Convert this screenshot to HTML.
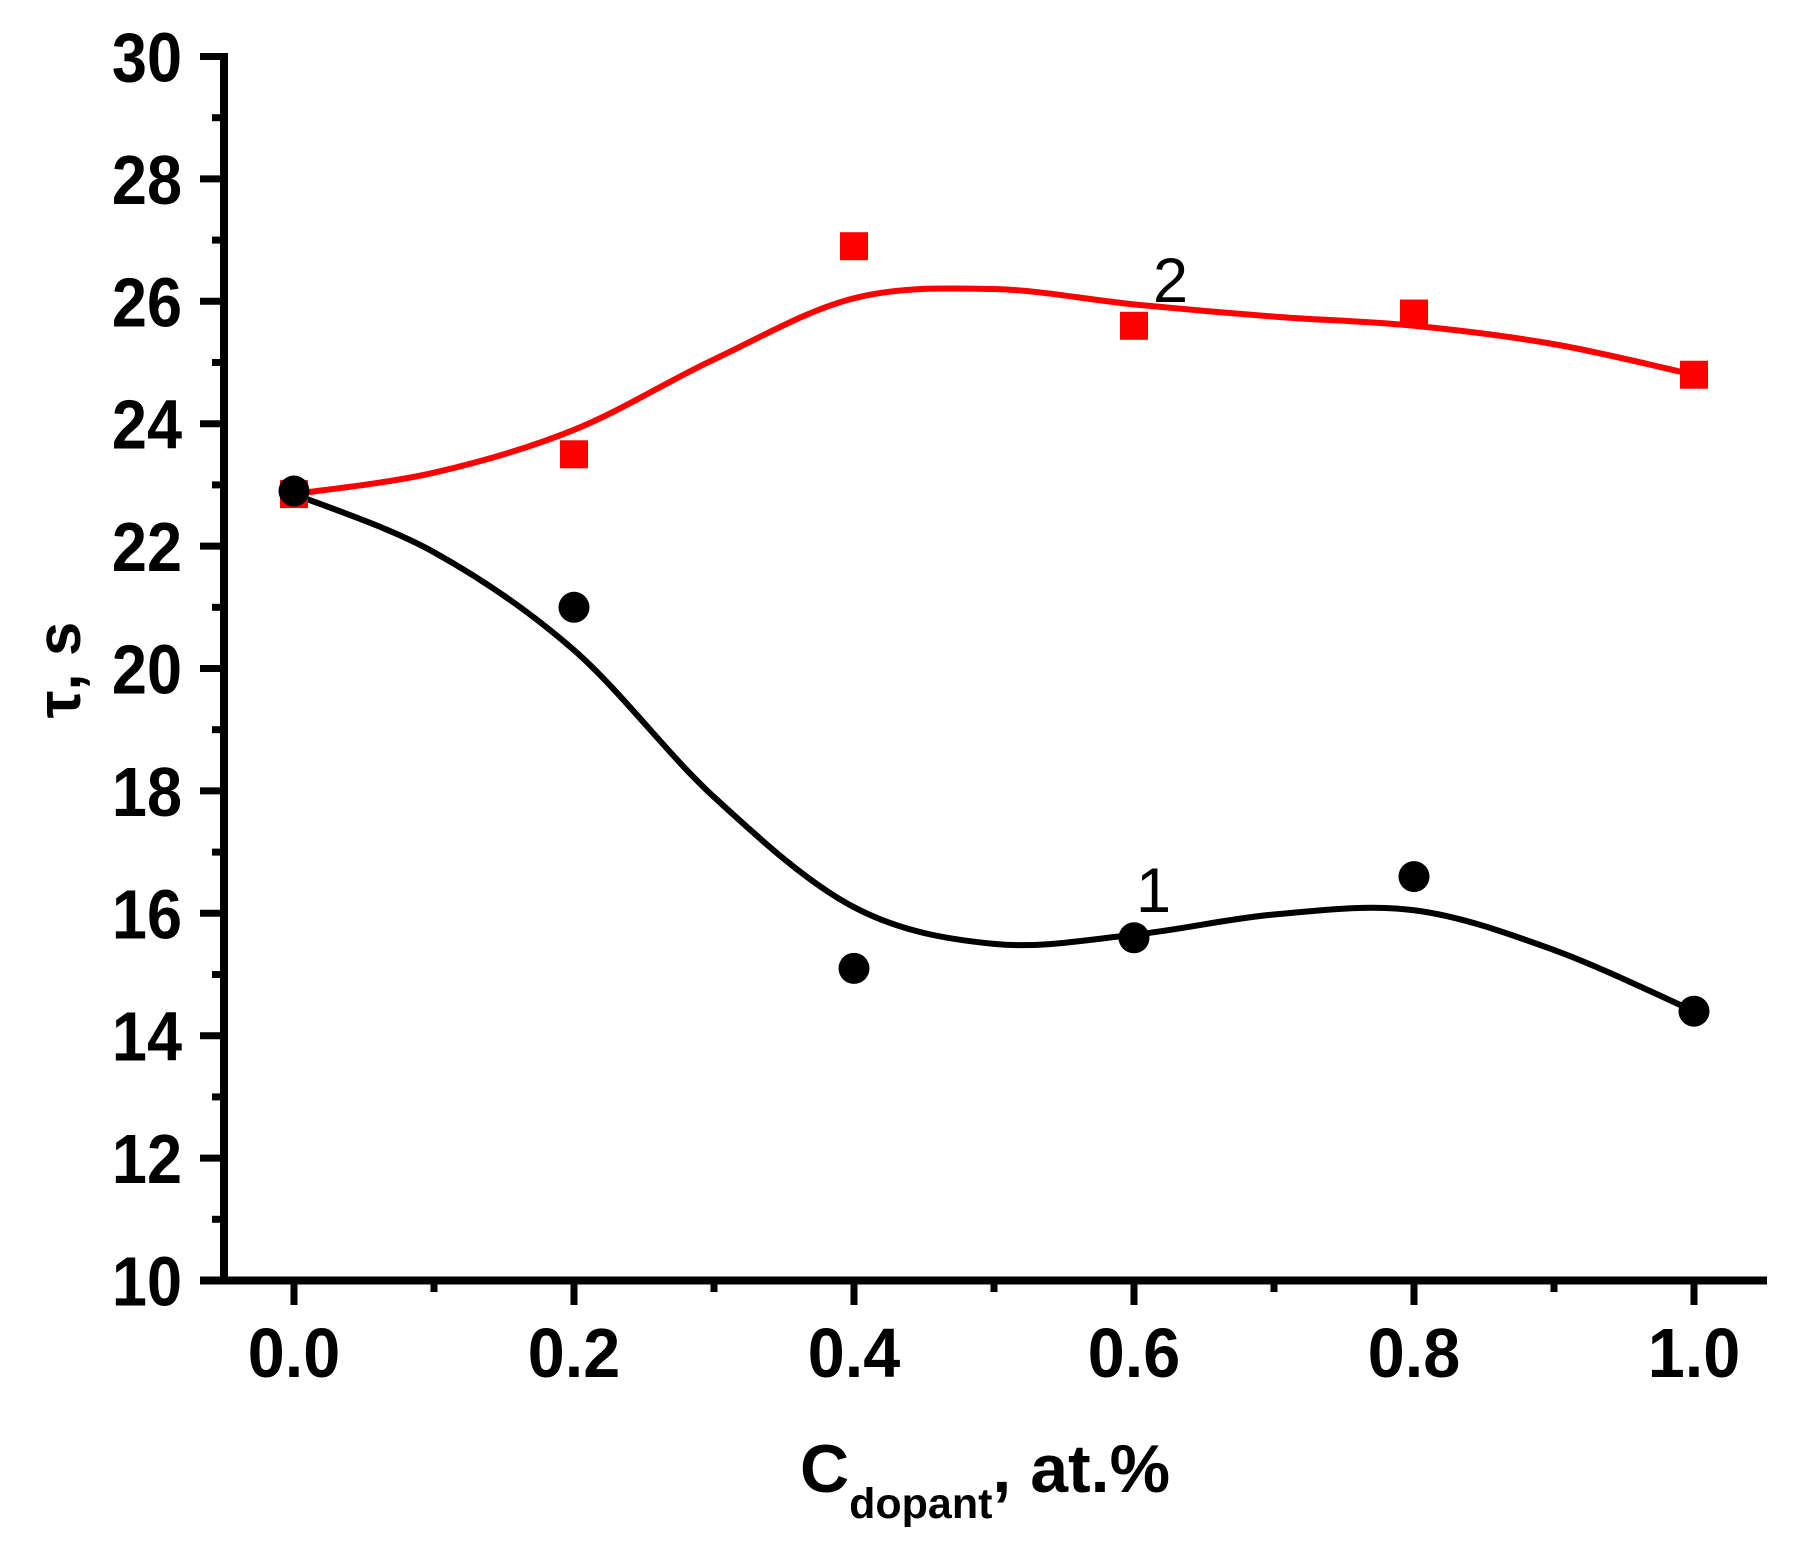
<!DOCTYPE html>
<html><head><meta charset="utf-8"><style>
html,body{margin:0;padding:0;background:#fff;}
svg{display:block;}
text{font-family:"Liberation Sans",Arial,sans-serif;}
</style></head><body>
<svg id="s" width="1803" height="1541" viewBox="0 0 1803 1541" xmlns="http://www.w3.org/2000/svg">
<rect width="1803" height="1541" fill="#fff"/>
<line x1="224" y1="53" x2="224" y2="1284" stroke="#000" stroke-width="8"/>
<line x1="200" y1="1280.5" x2="1767" y2="1280.5" stroke="#000" stroke-width="8"/>
<g id="ticks" stroke="#000" stroke-width="7"></g>
<g id="ylab" font-size="70" font-weight="bold" text-anchor="end"></g>
<g id="xlab" font-size="70" font-weight="bold" text-anchor="middle"></g>
<path id="red" fill="none" stroke="#ff0000" stroke-width="6" stroke-linejoin="round"/>
<path id="blk" fill="none" stroke="#000" stroke-width="6" stroke-linejoin="round"/>
<g id="mk"></g>
<text x="1153" y="302" font-size="63">2</text>
<text x="1136" y="912" font-size="63">1</text>
<text x="800" y="1492" font-size="68" font-weight="bold">C<tspan font-size="43" dy="26">dopant</tspan><tspan dy="-26">, at.%</tspan></text>
<text transform="translate(80,670) rotate(-90)" font-size="62" font-weight="bold" text-anchor="middle">τ, s</text>
</svg>
<script>
var NS="http://www.w3.org/2000/svg";
function X(t){return 294+1400*t;}
function Y(v){return 1280.5-61.2*(v-10);}
function el(p,n,a,txt){var e=document.createElementNS(NS,n);for(var k in a)e.setAttribute(k,a[k]);if(txt!==undefined)e.textContent=txt;document.getElementById(p).appendChild(e);return e;}
for(var v=10;v<=30;v++){var y=Y(v);var maj=(v%2==0);el("ticks","line",{x1:maj?200:212,x2:224,y1:y,y2:y});if(maj)el("ylab","text",{x:0,y:0,transform:"translate(182,"+(y+25)+") scale(0.9,1)"},String(v));}
for(var i=0;i<=10;i++){var t=i*0.1;var x=X(t);var maj=(i%2==0);el("ticks","line",{x1:x,x2:x,y1:1280,y2:maj?1305:1292});if(maj)el("xlab","text",{x:0,y:0,transform:"translate("+x+",1377) scale(0.95,1)"},t.toFixed(1));}
function cr(pts){var d="M"+pts[0][0]+","+pts[0][1];for(var i=0;i<pts.length-1;i++){var p0=pts[i-1]||pts[i],p1=pts[i],p2=pts[i+1],p3=pts[i+2]||p2;
d+=" C"+(p1[0]+(p2[0]-p0[0])/6)+","+(p1[1]+(p2[1]-p0[1])/6)+" "+(p2[0]-(p3[0]-p1[0])/6)+","+(p2[1]-(p3[1]-p1[1])/6)+" "+p2[0]+","+p2[1];}return d;}
function mk(a){return a.map(function(q){return [X(q[0]),Y(q[1])];});}
var red=[[0,22.85],[0.1,23.2],[0.2,23.9],[0.3,25.05],[0.4,26.05],[0.5,26.2],[0.6,25.95],[0.7,25.75],[0.8,25.6],[0.9,25.3],[1.0,24.8]];
var blk=[[0,22.85],[0.1,21.9],[0.2,20.3],[0.3,17.9],[0.4,16.1],[0.5,15.5],[0.6,15.65],[0.7,15.98],[0.8,16.05],[0.9,15.4],[1.0,14.4]];
document.getElementById("red").setAttribute("d",cr(mk(red)));
document.getElementById("blk").setAttribute("d",cr(mk(blk)));
var rs=[[0,22.85],[0.2,23.5],[0.4,26.9],[0.6,25.6],[0.8,25.8],[1.0,24.8]];
rs.forEach(function(q){el("mk","rect",{x:X(q[0])-14,y:Y(q[1])-14,width:28,height:28,fill:"#ff0000"});});
var bs=[[0,22.9],[0.2,21.0],[0.4,15.1],[0.6,15.6],[0.8,16.6],[1.0,14.4]];
bs.forEach(function(q){el("mk","circle",{cx:X(q[0]),cy:Y(q[1]),r:15.5,fill:"#000"});});
</script>
</body></html>
